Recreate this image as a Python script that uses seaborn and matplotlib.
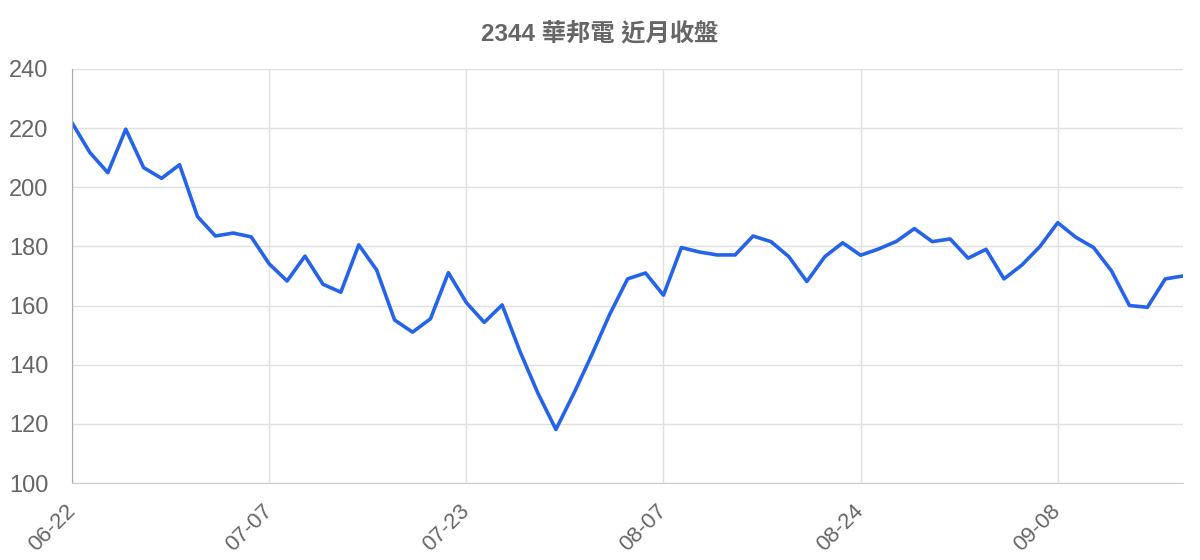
import pandas as pd
import matplotlib
matplotlib.use('Agg')
import matplotlib.pyplot as plt
import seaborn as sns

# closing prices, one per trading day
close = [221.8, 211.7, 204.9, 219.6, 206.6, 203.0, 207.6, 190.1, 183.5, 184.5,
         183.2, 174.1, 168.3, 176.7, 167.2, 164.5, 180.5, 172.0, 155.1, 151.0,
         155.5, 171.1, 161.0, 154.3, 160.2, 144.4, 130.3, 118.1, 130.3, 143.3,
         157.0, 169.0, 171.0, 163.5, 179.6, 178.1, 177.1, 177.1, 183.5, 181.6,
         176.5, 168.1, 176.5, 181.2, 177.0, 179.1, 181.7, 186.0, 181.6, 182.5,
         176.0, 179.0, 169.0, 173.7, 179.9, 188.0, 183.1, 179.6, 171.7, 160.0,
         159.4, 169.0, 170.0]
tick_labels = ['06-22', '07-07', '07-23', '08-07', '08-24', '09-08']
tick_every = 11
title = '2344 華邦電 近月收盤'

df = pd.DataFrame({'day': range(len(close)), 'close': close})

sns.set_style('white')
plt.rcParams['font.family'] = ['Liberation Sans', 'Noto Sans CJK TC', 'DejaVu Sans']

text_color = '#666666'
grid_color = '#e0e0e0'

fig, ax = plt.subplots(figsize=(12, 5.6), dpi=100)
fig.subplots_adjust(left=0.06, right=0.986, top=0.877, bottom=0.1375)

sns.lineplot(data=df, x='day', y='close', ax=ax, color='#2563eb', linewidth=2.6)

ax.set_xlim(0, len(close) - 1)
ax.set_ylim(100, 240)
ax.set_yticks(range(100, 241, 20))
ax.set_xticks(range(0, len(close), tick_every))
ax.set_xticklabels(tick_labels, rotation=45, ha='right', va='center',
                   rotation_mode='anchor')

ax.grid(True, color=grid_color, linewidth=1)
ax.set_axisbelow(True)
ax.tick_params(axis='both', length=14, width=1, color=grid_color,
               labelcolor=text_color)
ax.tick_params(axis='y', labelsize=17, pad=3)
ax.tick_params(axis='x', labelsize=16, pad=4)

for side in ['top', 'right']:
    ax.spines[side].set_visible(False)
ax.spines['left'].set_color('#aaaaaa')
ax.spines['bottom'].set_color('#cccccc')

ax.set_xlabel('')
ax.set_ylabel('')
# title is centred on the whole figure, not the axes
fig.text(0.5, 0.9375, title, ha='center', va='center', fontsize=17.5,
         fontweight='bold', color=text_color)

plt.savefig('out.png', dpi=100)
